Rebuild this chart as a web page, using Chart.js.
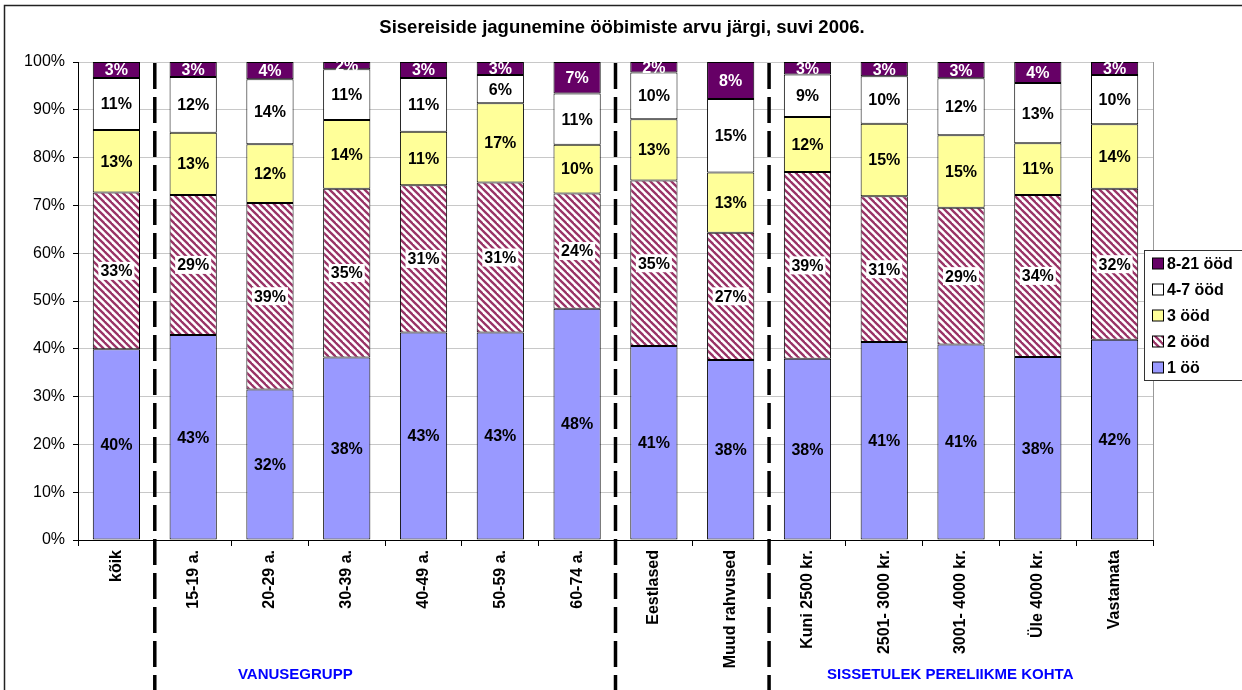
<!DOCTYPE html>
<html>
<head>
<meta charset="utf-8">
<script src="https://cdn.jsdelivr.net/npm/chart.js@4/dist/chart.umd.min.js"></script>
<style>
  body { margin: 0; background: #fff; }
  canvas { display: block; }
</style>
</head>
<body>
<canvas id="nightsChart" width="1242" height="690"></canvas>
<script>
const categories = ["kõik", "15-19 a.", "20-29 a.", "30-39 a.", "40-49 a.", "50-59 a.", "60-74 a.",
  "Eestlased", "Muud rahvused", "Kuni 2500 kr.", "2501- 3000 kr.", "3001- 4000 kr.", "Üle 4000 kr.", "Vastamata"];

const seriesNames = ["1 öö", "2 ööd", "3 ööd", "4-7 ööd", "8-21 ööd"];
const oneNight = [39.9, 42.9, 31.5, 38.2, 43.4, 43.4, 48.4, 40.6, 37.65, 37.9, 41.4, 40.9, 38.3, 41.9];
const twoNights = [32.8, 29.3, 39.0, 35.3, 30.8, 31.4, 24.1, 34.6, 26.65, 39.1, 30.5, 28.6, 33.9, 31.6];
const threeNights = [13.05, 13.0, 12.3, 14.35, 11.2, 16.55, 10.2, 12.8, 12.6, 11.5, 15.2, 15.2, 10.8, 13.5];
const fourToSeven = [10.9, 11.66, 13.6, 10.65, 11.25, 5.95, 10.7, 9.8, 15.35, 8.9, 9.9, 11.9, 12.6, 10.3];
const eightPlus = [3.35, 3.14, 3.6, 1.5, 3.35, 2.7, 6.6, 2.2, 7.75, 2.6, 3.0, 3.4, 4.4, 2.7];

const yTicks = [0, 10, 20, 30, 40, 50, 60, 70, 80, 90, 100];
// dashed separators go after these category indexes
const separatorsAfter = [0, 6, 8];
const groupLabels = [
  { text: "VANUSEGRUPP", at: 2.33 },
  { text: "SISSETULEK PERELIIKME KOHTA", at: 10.86 }
];
const chartTitle = "Sisereiside jagunemine ööbimiste arvu järgi, suvi 2006.";

const FONT = "'Liberation Sans', Arial, sans-serif";
Chart.defaults.color = "#000";
Chart.defaults.font.family = FONT;

function hatch() {
  const c = document.createElement("canvas");
  c.width = 7; c.height = 7;
  const g = c.getContext("2d");
  g.fillStyle = "#fff";
  g.fillRect(0, 0, 7, 7);
  g.strokeStyle = "#993366";
  g.lineWidth = 2.3;
  [-7, 0, 7].forEach((x0) => {
    g.beginPath();
    g.moveTo(x0 - 1, -1);
    g.lineTo(x0 + 8, 8);
    g.stroke();
  });
  return g.createPattern(c, "repeat");
}

const colors = ["#9999FF", hatch(), "#FFFF99", "#FFFFFF", "#660066"];
const values = [oneNight, twoNights, threeNights, fourToSeven, eightPlus];

const extras = {
  id: "extras",
  beforeDraw(chart) {
    const ctx = chart.ctx;
    ctx.save();
    ctx.strokeStyle = "#222";
    ctx.lineWidth = 1.5;
    ctx.beginPath();
    ctx.moveTo(4.5, 690);
    ctx.lineTo(4.5, 5.5);
    ctx.lineTo(1242, 5.5);
    ctx.stroke();
    ctx.font = "bold 18.5px " + FONT;
    ctx.fillStyle = "#000";
    ctx.textAlign = "center";
    ctx.textBaseline = "middle";
    ctx.fillText(chartTitle, 622, 28);
    ctx.restore();
  },
  afterDatasetsDraw(chart) {
    const ctx = chart.ctx;
    const area = chart.chartArea;
    const xs = chart.scales.x;
    ctx.save();
    // labels on segments
    ctx.font = "bold 16px " + FONT;
    ctx.textAlign = "center";
    ctx.textBaseline = "middle";
    chart.data.datasets.forEach((ds, di) => {
      chart.getDatasetMeta(di).data.forEach((bar, i) => {
        const txt = Math.round(ds.data[i]) + "%";
        const cy = (bar.y + bar.base) / 2;
        if (di === 1) {
          const w = ctx.measureText(txt).width;
          ctx.fillStyle = "#fff";
          ctx.fillRect(bar.x - w / 2 - 2, cy - 9, w + 4, 18);
        }
        ctx.fillStyle = di === 4 ? "#fff" : "#000";
        ctx.fillText(txt, bar.x, cy + 1);
      });
    });
    // plot area right border
    ctx.strokeStyle = "#999";
    ctx.lineWidth = 1;
    ctx.beginPath();
    ctx.moveTo(area.right + 0.5, area.top);
    ctx.lineTo(area.right + 0.5, area.bottom);
    ctx.stroke();
    // dashed separators
    ctx.strokeStyle = "#000";
    ctx.lineWidth = 3.5;
    ctx.setLineDash([26, 8]);
    separatorsAfter.forEach((i) => {
      const x = (xs.getPixelForValue(i) + xs.getPixelForValue(i + 1)) / 2;
      ctx.beginPath();
      ctx.moveTo(x, area.top + 1);
      ctx.lineTo(x, 690);
      ctx.stroke();
    });
    ctx.setLineDash([]);
    // group labels
    ctx.font = "bold 15px " + FONT;
    ctx.fillStyle = "#0000FF";
    const step = xs.getPixelForValue(1) - xs.getPixelForValue(0);
    groupLabels.forEach((g) => {
      ctx.fillText(g.text, xs.getPixelForValue(0) + g.at * step, 675);
    });
    // legend
    const lx = 1144, ly = 250;
    ctx.fillStyle = "#fff";
    ctx.fillRect(lx, ly, 110, 130);
    ctx.strokeStyle = "#333";
    ctx.lineWidth = 1;
    ctx.strokeRect(lx + 0.5, ly + 0.5, 110, 130);
    ctx.font = "bold 16px " + FONT;
    ctx.textAlign = "left";
    for (let k = 0; k < 5; k++) {
      const di = 4 - k;
      const cy = ly + 13.5 + k * 26;
      ctx.fillStyle = colors[di];
      ctx.fillRect(lx + 8, cy - 5.5, 11, 11);
      ctx.strokeStyle = "#000";
      ctx.strokeRect(lx + 8.5, cy - 5.5, 11, 11);
      ctx.fillStyle = "#000";
      ctx.fillText(seriesNames[di], lx + 23, cy + 1);
    }
    ctx.restore();
  }
};

new Chart(document.getElementById("nightsChart"), {
  type: "bar",
  data: {
    labels: categories,
    datasets: values.map((v, i) => ({
      label: seriesNames[i],
      data: v,
      backgroundColor: colors[i],
      borderColor: "#000",
      borderWidth: 1,
      borderSkipped: false,
      categoryPercentage: 1,
      barPercentage: 0.615
    }))
  },
  options: {
    responsive: false,
    animation: false,
    layout: { padding: { left: 0, right: 89, top: 62, bottom: 0 } },
    plugins: {
      legend: { display: false },
      tooltip: { enabled: false },
      title: { display: false }
    },
    scales: {
      x: {
        stacked: true,
        afterFit: (s) => { s.height = 150; },
        border: { color: "#000", width: 1 },
        grid: { drawOnChartArea: false, drawTicks: true, tickLength: 6, tickColor: "#000" },
        ticks: {
          autoSkip: false,
          minRotation: 90,
          maxRotation: 90,
          padding: 4,
          font: { size: 16, weight: "bold", family: FONT }
        }
      },
      y: {
        stacked: true,
        min: 0,
        max: 100,
        afterFit: (s) => { s.width = 78; },
        afterBuildTicks: (s) => { s.ticks = yTicks.map((v) => ({ value: v })); },
        border: { color: "#000", width: 1 },
        grid: { color: "#c8c8c8", tickColor: "#000", tickLength: 5 },
        ticks: {
          padding: 8,
          font: { size: 16, family: FONT },
          callback: (v) => v + "%"
        }
      }
    }
  },
  plugins: [extras]
});
</script>
</body>
</html>
